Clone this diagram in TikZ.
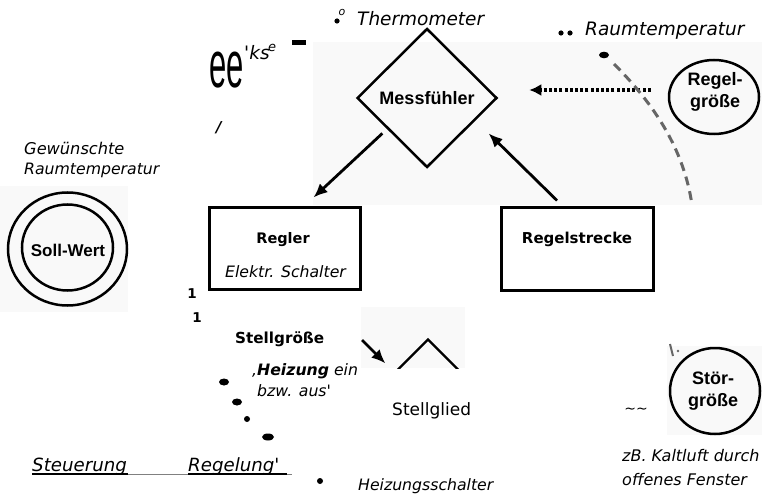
\documentclass[tikz,border=0pt]{standalone}
\usepackage{fontspec}
\setmainfont{DejaVu Sans}
\newfontfamily\helv{Liberation Sans}
\usetikzlibrary{arrows.meta,shapes.geometric}
\definecolor{patch}{gray}{0.978}
\definecolor{dashg}{gray}{0.4}
\definecolor{ulg}{gray}{0.5}
\begin{document}
\begin{tikzpicture}[x=1pt,y=-1pt,
  itl/.style={inner sep=0pt, anchor=base west, font=\fontsize{15.7}{15.7}\selectfont\itshape},
  itbig/.style={inner sep=0pt, anchor=base west, font=\fontsize{18.5}{18.5}\selectfont\itshape},
  bld/.style={inner sep=0pt, anchor=base, font=\fontsize{15}{15}\selectfont\bfseries},
  hb/.style={inner sep=0pt, align=center, font=\helv\bfseries\fontsize{18}{22}\selectfont},
  boxs/.style={draw, line width=3pt, inner sep=0pt},
  ring/.style={draw, ellipse, line width=2.5pt, inner sep=0pt},
  arr/.style={line width=2.8pt, -{Latex[length=14pt,width=12pt]}},
  blob/.style={fill=black}]
\useasboundingbox (0,0) rectangle (762,497);
% scanned background patches
\fill[patch] (313,42) rectangle (762,205);
\fill[patch] (0,186) rectangle (128,312);
\fill[patch] (361,307) rectangle (465,368);
\fill[patch] (667,346) rectangle (762,435);

% top labels
\fill[blob] (337,21) circle (2.6);
\node[inner sep=0pt, font=\fontsize{11}{11}\selectfont\itshape] (osup) at (342,12) {o};
\node[itbig] (thermo) at (357,26) {Thermometer};
\fill[blob] (561,33) circle (2.6);
\fill[blob] (570,33) circle (2.6);
\node[itbig] (raumt) at (585,36) {Raumtemperatur};

% odd glyphs top left
\node[inner sep=0pt, anchor=base west, font=\helv\fontsize{66}{66}\selectfont, xscale=0.47] (ee) at (209,88) {ee};
\node[inner sep=0pt, anchor=base west, font=\fontsize{18.5}{18.5}\selectfont\itshape] (ks) at (244,60) {\textquotesingle ks};
\node[inner sep=0pt, anchor=base west, font=\fontsize{13}{13}\selectfont\itshape] (ksE) at (268,52) {e};
\fill[blob] (292,40) rectangle (306,45);
\node[inner sep=0pt, anchor=base west, font=\fontsize{15}{15}\selectfont\bfseries\itshape] (slash) at (216,133) {/};

% Messfuehler
\node[draw, diamond, aspect=1, line width=2.5pt, minimum width=140pt, minimum height=139pt, inner sep=0pt] (mess) at (427,98) {};
\node[hb] (messT) at (427,98) {Messfühler};

% Regelgroesse
\node[ring, minimum width=90pt, minimum height=74pt] (rg) at (714,97) {};
\node[hb] (rgT) at (715,91.5) {Regel-\\größe};

% dotted arrow
\draw[line width=3.5pt, dash pattern=on 3pt off 2.2pt, -{Latex[length=12pt,width=12pt]}] ([xshift=-17pt,yshift=7pt]rg.west) -- ([xshift=31pt,yshift=8pt]mess.east);

% dashed curve and blob
\fill[blob] (604,55) ellipse (5 and 3.3);
\draw[dashg, line width=3pt, dash pattern=on 9pt off 6pt] (614,64) .. controls (655,105) and (684,150) .. (692,205);
\draw[dashg, line width=2pt] (670,344) -- (673,356);
\fill[dashg] (678,351) circle (1.3);

% Gewuenschte Raumtemperatur
\node[itl, font=\fontsize{16.2}{16.2}\selectfont\itshape] (gew1) at (24,155) {Gewünschte};
\node[itl] (gew2) at (24,175) {Raumtemperatur};

% Soll-Wert
\node[ring, minimum width=119pt, minimum height=113pt] (sw) at (67.5,249) {};
\node[ring, minimum width=91pt, minimum height=86pt] (swi) at (67.5,247.5) {};
\node[hb, font=\helv\bfseries\fontsize{17}{17}\selectfont] (swT) at (68,250) {Soll-Wert};

% Regler
\node[boxs, minimum width=151pt, minimum height=82pt] (regler) at (284.5,248) {};
\node[bld, font=\fontsize{14.5}{14.5}\selectfont\bfseries] (reglerT) at (283,243) {Regler};
\node[itl] (elektr) at (225,277) {Elektr. Schalter};

% Regelstrecke
\node[boxs, minimum width=152pt, minimum height=83pt] (strecke) at (577,248.5) {};
\node[bld] (streckeT) at (577,243) {Regelstrecke};

% arrows
\draw[arr] ([xshift=-9pt]mess.south west) -- ([xshift=106pt,yshift=8pt]regler.north west);
\draw[arr] ([xshift=-20pt,yshift=5pt]strecke.north) -- ([xshift=26pt]mess.south east);

% ones
\node[inner sep=0pt, anchor=base, font=\fontsize{13.5}{13.5}\selectfont\bfseries] (one1) at (192,298) {1};
\node[inner sep=0pt, anchor=base, font=\fontsize{13.5}{13.5}\selectfont\bfseries] (one2) at (197,322) {1};

% Stellgroesse
\node[inner sep=0pt, anchor=base west, font=\fontsize{15.2}{15.2}\selectfont\bfseries] (stellgr) at (235,343) {Stellgröße};
\node[itl] (heiz1) at (252,375) {,\textbf{Heizung} ein};
\node[itl] (heiz2) at (257,396) {bzw. aus\textquotesingle};
\fill[blob] (224,382) ellipse (5 and 3.5);
\fill[blob] (237,402) ellipse (5 and 3.5);
\fill[blob] (247,419) circle (3);
\fill[blob] (268,437) ellipse (6 and 3.5);

% Stellglied
\begin{scope}
\clip (361,307) rectangle (465,368);
\node[draw, diamond, aspect=1, line width=2.3pt, minimum width=120pt, minimum height=120pt, inner sep=0pt] (glied) at (428,399) {};
\end{scope}
\coordinate (gliedIn) at (362,340);
\draw[arr, line width=2.6pt] (gliedIn) -- ([xshift=-12pt,yshift=5pt]glied.north west);
\node[inner sep=0pt, anchor=base west, font=\fontsize{17}{17}\selectfont] (gliedT) at (392,415) {Stellglied};

% Steuerung / Regelung
\draw[ulg, line width=1pt] (32,474) -- (292,474);
\node[itl, font=\fontsize{18.2}{18.2}\selectfont\itshape] (steu) at (32,471) {Steuerung};
\node[itl, font=\fontsize{18.2}{18.2}\selectfont\itshape] (regel) at (188,471) {Regelung\textquotesingle};
\draw[line width=1.3pt] (steu.base west) ++(0,3) -- ++(96,0);
\draw[line width=1.3pt] (regel.base west) ++(0,3) -- ++(99,0);

% Heizungsschalter
\fill[blob] (320,481) circle (3);
\node[itl] (hschalt) at (358,490) {Heizungsschalter};

% Stoergroesse
\node[inner sep=0pt, font=\fontsize{14}{14}\selectfont] (tilde) at (636,411) {\textasciitilde\textasciitilde};
\node[ring, minimum width=90pt, minimum height=86pt] (sg) at (715,391) {};
\node[hb] (sgT) at (713,391.5) {Stör-\\größe};
\node[itl, font=\fontsize{16}{16}\selectfont\itshape] (zb1) at (622,461) {zB. Kaltluft durch};
\node[itl, font=\fontsize{16}{16}\selectfont\itshape] (zb2) at (622,485) {offenes Fenster};
\end{tikzpicture}
\end{document}
